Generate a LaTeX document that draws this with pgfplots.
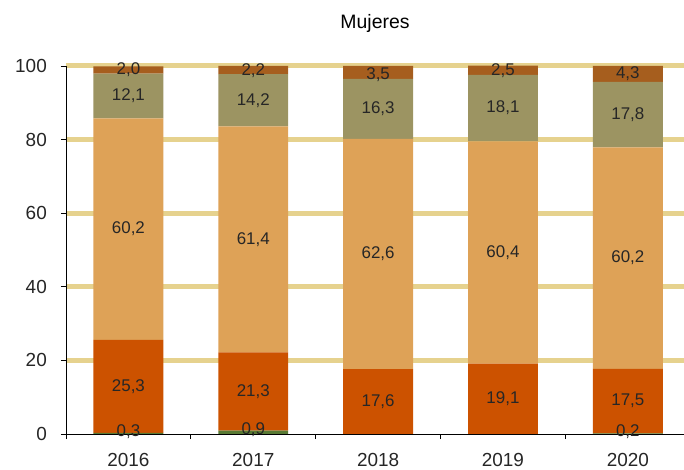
\documentclass[border=0pt]{standalone}
\usepackage{pgfplots}
\pgfplotsset{compat=1.18}
\usepackage{pgfplotstable}
\usepackage{fontspec}
\setmainfont{Liberation Sans}
\definecolor{cgreen}{HTML}{587A34}
\definecolor{cred}{HTML}{CC5200}
\definecolor{corange}{HTML}{DEA257}
\definecolor{colive}{HTML}{9C9462}
\definecolor{cbrown}{HTML}{A65E1E}
\definecolor{cgrid}{HTML}{E6D28E}

\pgfplotstableread{
x  g    r     o     v     b
0  0.3  25.3  60.2  12.1  2.0
1  0.9  21.3  61.4  14.2  2.2
2  0.0  17.6  62.6  16.3  3.5
3  0.0  19.1  60.4  18.1  2.5
4  0.2  17.5  60.2  17.8  4.3
}\datatable

\pgfplotstableread{
x  y      lab
0  0.6    {0,3}
0  12.95  {25,3}
0  55.7   {60,2}
0  91.85  {12,1}
0  98.9   {2,0}
1  1.2    {0,9}
1  11.55  {21,3}
1  52.9   {61,4}
1  90.7   {14,2}
1  98.6   {2,2}
2  8.8    {17,6}
2  48.9   {62,6}
2  88.35  {16,3}
2  97.75  {3,5}
3  9.55   {19,1}
3  49.3   {60,4}
3  88.55  {18,1}
3  98.6   {2,5}
4  0.6    {0,2}
4  8.95   {17,5}
4  47.8   {60,2}
4  86.8   {17,8}
4  97.85  {4,3}
}\labtable

\begin{document}
\begin{tikzpicture}
\path[use as bounding box] (-66bp,-36bp) rectangle (618bp,434bp);
\begin{axis}[
  scale only axis,
  width=618bp, height=368bp,
  xmin=-0.5, xmax=4.45,
  ymin=0, ymax=100,
  clip=false,
  axis lines=left,
  axis line style={-, black, line width=0.9bp},
  ybar stacked,
  bar width=0.56,
  ymajorgrids,
  grid style={cgrid, line width=5bp},
  ytick={20,40,60,80,100},
  extra y ticks={0},
  extra y tick style={grid=none},
  xtick={0,1,2,3,4},
  xticklabels={2016,2017,2018,2019,2020},
  major x tick style={draw=none},
  minor xtick={-0.5,0.5,1.5,2.5,3.5},
  minor x tick style={draw=black, line width=0.8bp},
  minor tick length=5bp,
  y tick style={black, line width=0.8bp},
  tick align=outside,
  major tick length=5bp,
  tick label style={font=\fontsize{19}{21}\selectfont, text=black!85},
  xticklabel style={anchor=base, yshift=-27bp},
  yticklabel style={anchor=east, inner sep=0pt, xshift=-14bp},
  /pgf/number format/assume math mode=true,
  title={Mujeres},
  title style={font=\fontsize{19.5}{21}\selectfont, at={(0.5,1)}, anchor=base, yshift=32bp},
  every axis plot/.append style={draw=none},
]
\addplot[fill=cgreen] table[x=x,y=g] {\datatable};
\addplot[fill=cred] table[x=x,y=r] {\datatable};
\addplot[fill=corange] table[x=x,y=o] {\datatable};
\addplot[fill=colive] table[x=x,y=v] {\datatable};
\addplot[fill=cbrown] table[x=x,y=b] {\datatable};
\end{axis}
\begin{axis}[
  scale only axis,
  width=618bp, height=368bp,
  xmin=-0.5, xmax=4.45,
  ymin=0, ymax=100,
  clip=false,
  axis x line=bottom, axis y line=left,
  axis line style={-, black, line width=0.9bp},
  xtick=\empty, ytick=\empty,
]
\addplot[draw=none, mark=none, nodes near coords, point meta=explicit symbolic,
  every node near coord/.append style={anchor=center, font=\fontsize{17}{19}\selectfont, text=black!85}]
  table[x=x, y=y, meta=lab] {\labtable};
\end{axis}
\end{tikzpicture}
\end{document}
